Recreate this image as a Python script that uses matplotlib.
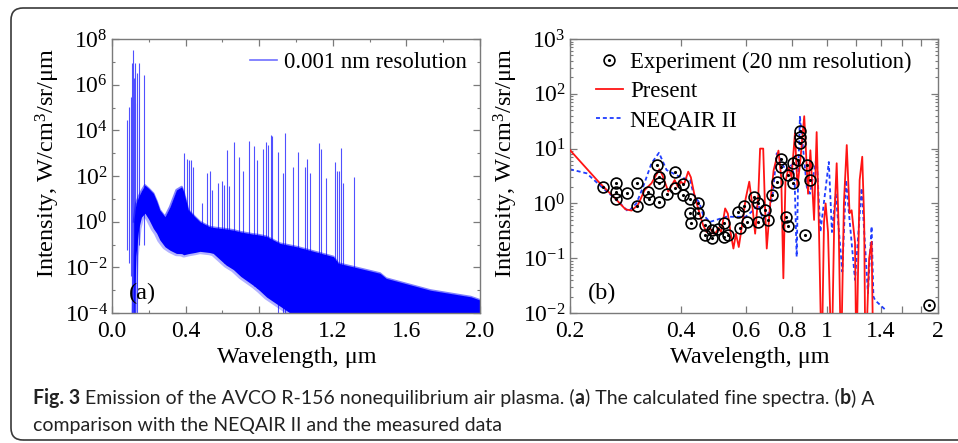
import numpy as np
import matplotlib
matplotlib.use('Agg')
import matplotlib.pyplot as plt
from matplotlib.patches import FancyBboxPatch
from matplotlib.lines import Line2D
from matplotlib.legend_handler import HandlerTuple
from matplotlib.ticker import FixedLocator, NullFormatter, NullLocator, LogLocator

plt.rcParams['font.family'] = ['Liberation Serif', 'DejaVu Serif']
plt.rcParams['mathtext.fontset'] = 'custom'
plt.rcParams['mathtext.rm'] = 'Liberation Serif'
plt.rcParams['mathtext.it'] = 'Liberation Serif:italic'
plt.rcParams['axes.unicode_minus'] = False

# ---- panel (a): fine spectrum, band envelope (log10 of intensity) ----
band_wl = [0.118, 0.13, 0.145, 0.16, 0.179, 0.20, 0.225, 0.243, 0.26, 0.288, 0.315,
           0.35, 0.379, 0.39, 0.415, 0.45, 0.478, 0.53, 0.55, 0.62, 0.66, 0.70,
           0.77, 0.80, 0.84, 0.913, 1.004, 1.203, 1.23, 1.457, 1.49, 1.73, 1.95, 2.0]
band_hi = [0.0, 0.8, 1.1, 1.35, 1.6, 1.45, 1.24, 0.9, 0.51, 0.22, 0.65,
           1.39, 1.53, 1.3, 0.51, 0.22, 0.0, -0.22, -0.25, -0.32, -0.37, -0.45,
           -0.55, -0.58, -0.65, -0.95, -1.1, -1.53, -1.82, -2.26, -2.48, -3.0, -3.29, -3.43]
band_lo = [-4.5, -1.5, -0.3, 0.2, 0.37, 0.1, -0.3, -0.51, -0.8, -1.1, -1.25,
           -1.39, -1.4, -1.45, -1.4, -1.35, -1.3, -1.35, -1.39, -1.9, -2.1, -2.4,
           -2.8, -3.0, -3.3, -3.7, -4.2, -5, -5, -5, -5, -5, -5, -5]

# emission lines: wavelength, log10 top, log10 bottom
line_wl = [0.080, 0.091, 0.102, 0.106, 0.110, 0.113, 0.116, 0.119, 0.123, 0.127, 0.134,
           0.148, 0.174, 0.393, 0.409, 0.420, 0.429, 0.440, 0.489, 0.518, 0.533, 0.543,
           0.578, 0.598, 0.609, 0.623, 0.638, 0.665, 0.692, 0.714, 0.745, 0.774, 0.786,
           0.819, 0.835, 0.850, 0.862, 0.871, 0.904, 0.931, 0.940, 0.982, 1.009, 1.049,
           1.058, 1.076, 1.127, 1.134, 1.163, 1.212, 1.221, 1.235, 1.245, 1.257, 1.317]
line_top = [4.45, 5.03, 5.47, 5.5, 6.94, 6.0, 7.52, 6.3, 6.94, 5.2, 6.5,
            6.94, 6.42, 3.02, 2.73, 2.7, 2.7, 2.4, 0.8, 2.12, 2.24, 1.4,
            1.7, 1.78, 1.6, 3.14, 1.55, 3.5, 2.85, 2.24, 3.53, 3.3, 2.7,
            3.2, 3.5, 3.37, 3.8, 3.73, 3.07, 2.12, 3.87, 2.41, 3.07, 2.41,
            2.73, 2.12, 3.46, 3.2, 1.9, 2.63, 2.24, 2.2, 3.21, 1.7, 1.97]
line_bot = [-1.24, -1.8, -2.4, -4, -4, -4, -4, -4, -4, -4, -4,
            -1, -1, -1.3, -1.3, -1.3, -1.3, -1.3, -1.3, -1.3, -1.3, -1.3,
            -1.3, -1.3, -1.8, -1.8, -1.8, -2.0, -2.2, -2.4, -2.6, -2.8, -2.9,
            -3.1, -3.2, -3.3, -3.4, -3.4, -4, -4, -4, -4, -4, -4,
            -4, -4, -4, -4, -4, -4, -4, -4, -4, -4, -4]

# ---- panel (b) ----
exp_wl = [0.246, 0.266, 0.266, 0.266, 0.285, 0.305, 0.305, 0.326, 0.327, 0.344,
          0.348, 0.348, 0.348, 0.368, 0.387, 0.387, 0.406, 0.406, 0.424, 0.424,
          0.426, 0.446, 0.446, 0.465, 0.465, 0.485, 0.485, 0.506, 0.524, 0.524,
          0.537, 0.580, 0.573, 0.594, 0.604, 0.632, 0.650, 0.650, 0.678, 0.692,
          0.706, 0.729, 0.747, 0.750, 0.784, 0.773, 0.780, 0.806, 0.806, 0.835,
          0.843, 0.843, 0.845, 0.870, 0.883, 0.898, 1.89]
exp_I = [1.97, 2.39, 1.64, 1.19, 1.57, 2.33, 0.90, 1.64, 1.20, 5.0,
         3.07, 2.33, 1.07, 1.47, 3.79, 1.88, 2.23, 1.42, 1.19, 0.66,
         0.43, 1.03, 0.66, 0.40, 0.265, 0.33, 0.23, 0.34, 0.43, 0.24,
         0.265, 0.35, 0.69, 0.91, 0.46, 1.32, 1.03, 0.46, 0.76, 0.50,
         1.42, 2.49, 6.38, 4.68, 3.30, 0.57, 0.39, 5.4, 2.39, 6.2,
         20.9, 16.5, 12.5, 0.265, 5.0, 2.67, 0.014]

present_wl = [0.200, 0.2154, 0.239, 0.265, 0.283, 0.294, 0.306, 0.319, 0.333, 0.350,
              0.357, 0.370, 0.385, 0.393, 0.400, 0.408, 0.419, 0.426, 0.436, 0.450,
              0.460, 0.470, 0.480, 0.490, 0.500, 0.506, 0.515, 0.528, 0.537, 0.546,
              0.556, 0.565, 0.575, 0.590, 0.600, 0.614, 0.625, 0.637, 0.650, 0.657,
              0.670, 0.677, 0.685, 0.700, 0.715, 0.737, 0.750, 0.760, 0.770, 0.785,
              0.800, 0.817, 0.830, 0.845, 0.866, 0.887, 0.900, 0.921, 0.936, 0.950,
              0.966, 0.980, 0.990, 1.005, 1.028, 1.045, 1.061, 1.075, 1.090, 1.110,
              1.130, 1.150, 1.165, 1.190, 1.200, 1.225, 1.245, 1.260, 1.270, 1.300,
              1.320, 1.335]
present_I = [9.4, 5.4, 2.49, 1.24, 0.78, 0.74, 0.94, 1.75, 2.33, 4.2,
             3.2, 1.64, 2.67, 2.0, 2.5, 2.2, 3.8, 3.0, 1.4, 0.65,
             0.40, 0.30, 0.36, 0.28, 0.30, 0.36, 0.30, 0.81, 0.65, 0.30,
             0.15, 0.28, 0.16, 0.5, 1.2, 2.49, 1.0, 0.28, 1.5, 10.0,
             10.0, 1.0, 0.15, 1.0, 4.0, 9.2, 3.0, 0.043, 2.5, 4.5,
             3.0, 19.0, 2.0, 6.0, 39.0, 1.5, 9.3, 0.5, 20.0, 0.3,
             0.001, 0.45, 1.0, 0.3, 0.001, 0.5, 5.4, 0.3, 0.001, 1.0,
             11.6, 0.66, 0.75, 0.19, 0.001, 2.67, 7.1, 0.5, 0.001, 0.1,
             0.2, 0.001]

neqair_wl = [0.200, 0.222, 0.246, 0.268, 0.288, 0.303, 0.316, 0.333, 0.349, 0.366,
             0.381, 0.400, 0.424, 0.433, 0.450, 0.460, 0.480, 0.500, 0.530, 0.560,
             0.600, 0.630, 0.650, 0.670, 0.690, 0.710, 0.729, 0.745, 0.770, 0.800,
             0.815, 0.826, 0.835, 0.843, 0.860, 0.880, 0.898, 0.936, 0.958, 1.010,
             1.030, 1.055, 1.099, 1.125, 1.150, 1.190, 1.240, 1.290, 1.320, 1.335,
             1.350, 1.440]
neqair_I = [4.2, 3.54, 1.89, 1.15, 0.71, 1.0, 2.0, 5.4, 8.4, 4.06,
            3.54, 3.0, 2.67, 1.5, 1.0, 0.62, 0.46, 0.50, 0.57, 0.57,
            0.57, 0.75, 0.94, 0.5, 0.6, 1.32, 8.2, 6.5, 4.0, 5.0,
            3.0, 0.106, 5.0, 38.0, 10.0, 2.0, 1.5, 7.1, 0.3, 5.7,
            0.3, 1.5, 0.057, 2.67, 0.5, 0.04, 1.9, 0.023, 0.38, 0.02,
            0.017, 0.0114]

b_ticks = [0.2, 0.4, 0.6, 0.8, 1.0, 1.2, 1.4, 1.6, 1.8, 2.0]
b_ticklabels = ['0.2', '0.4', '0.6', '0.8', '1', '', '1.4', '', '', '2']

caption_1 = [('Fig. 3', True), (' Emission of the AVCO R-156 nonequilibrium air plasma. (', False),
             ('a', True), (') The calculated fine spectra. (', False), ('b', True), (') A', False)]
caption_2 = [('comparison with the NEQAIR II and the measured data', False)]

W, H = 958, 443
fig = plt.figure(figsize=(W / 100, H / 100), dpi=100)
axa = fig.add_axes([112 / W, 1 - 313 / H, 368 / W, 274 / H])
axb = fig.add_axes([570 / W, 1 - 313 / H, 368 / W, 274 / H])

spine_col = '#7a7a7a'
tick_fs = 17
label_fs = 17.5
leg_fs = 16.4

# --- (a) ---
axa.set_yscale('log')
axa.vlines(line_wl, np.power(10.0, line_bot), np.power(10.0, line_top),
           color='#5050ff', lw=0.8, zorder=1)
axa.fill_between(band_wl, np.power(10.0, band_lo), np.power(10.0, band_hi),
                 color='#0000ff', lw=0, zorder=2)
axa.plot(band_wl, np.power(10.0, band_lo), color='#0000ff', lw=4, alpha=0.3, zorder=2)
axa.plot(band_wl, np.power(10.0, band_hi), color='#0000ff', lw=1.5, alpha=0.5, zorder=2)
axa.set_xlim(0, 2.0)
axa.set_ylim(1e-4, 1e8)
axa.set_xticks(np.arange(0, 2.01, 0.4))
axa.set_xticklabels(['0.0', '0.4', '0.8', '1.2', '1.6', '2.0'])
axa.set_xticks(np.arange(0.2, 2.0, 0.4), minor=True)
axa.yaxis.set_major_locator(FixedLocator([10.0 ** k for k in range(-4, 9, 2)]))
axa.yaxis.set_minor_locator(FixedLocator([10.0 ** k for k in range(-3, 8, 2)]))
axa.yaxis.set_minor_formatter(NullFormatter())
axa.legend([Line2D([], [], color='#7070ff', lw=1.2)], ['0.001 nm resolution'],
           loc='upper left', bbox_to_anchor=(0.375, 0.953), frameon=False,
           fontsize=leg_fs, handlelength=1.2, handletextpad=0.3,
           borderpad=0, borderaxespad=0)
axa.text(0.084, 0.073, '(a)', transform=axa.transAxes, fontsize=label_fs,
         ha='center', va='center')

# --- (b) ---
axb.set_xscale('log')
axb.set_yscale('log')
blue, = axb.plot(neqair_wl, neqair_I, color='#1f3cff', lw=1.3, ls=(0, (2.2, 1.6)), zorder=2)
red, = axb.plot(present_wl, present_I, color='#ff1414', lw=1.3, zorder=3)
circ, = axb.plot(exp_wl, exp_I, 'o', mfc='none', mec='black', ms=7.8, mew=1.2, zorder=4)
dot, = axb.plot(exp_wl, exp_I, '.', color='black', ms=2.5, zorder=4)
axb.set_xlim(0.2, 2.0)
axb.set_ylim(1e-2, 1e3)
axb.xaxis.set_major_locator(FixedLocator(b_ticks))
axb.xaxis.set_minor_locator(NullLocator())
axb.set_xticklabels(b_ticklabels)
axb.yaxis.set_major_locator(LogLocator(base=10))
axb.yaxis.set_minor_locator(LogLocator(base=10, subs=np.arange(2, 10)))
axb.yaxis.set_minor_formatter(NullFormatter())
axb.legend([(circ, dot), red, blue],
           ['Experiment (20 nm resolution)', 'Present', 'NEQAIR II'],
           handler_map={tuple: HandlerTuple(ndivide=1)}, numpoints=1,
           loc='upper left', bbox_to_anchor=(0.07, 0.953), frameon=False,
           fontsize=leg_fs, handlelength=1.2, handletextpad=0.3, labelspacing=0.36,
           borderpad=0, borderaxespad=0)
axb.text(0.086, 0.073, '(b)', transform=axb.transAxes, fontsize=label_fs,
         ha='center', va='center')

for ax in (axa, axb):
    for s in ax.spines.values():
        s.set_color(spine_col)
        s.set_linewidth(1.0)
    ax.tick_params(which='both', direction='in', top=True, right=True,
                   color=spine_col, labelsize=tick_fs)
    ax.tick_params(which='major', length=5, width=0.9)
    ax.tick_params(which='minor', length=2.5, width=0.8)
    ax.tick_params(axis='x', pad=6)
    ax.tick_params(axis='y', pad=3)
    ax.set_xlabel('Wavelength, \u03bcm', fontsize=label_fs)
    ax.set_ylabel('Intensity, W/cm$^{3}$/sr/\u03bcm', fontsize=label_fs)
    ax.yaxis.set_label_coords(-0.136, 0.547)
axa.xaxis.set_label_coords(0.503, -0.124)
axb.xaxis.set_label_coords(0.489, -0.124)

# outer rounded frame (extends past the right edge)
frame = FancyBboxPatch((0.11, 0.03), 9.8, 4.32, boxstyle='round,pad=0,rounding_size=0.12',
                       transform=fig.dpi_scale_trans, fill=False, ec='#3a3a3a', lw=1.2)
fig.patches.append(frame)

# caption with mixed weights
cap_family = ['Lato', 'Open Sans', 'DejaVu Sans']
renderer = fig.canvas.get_renderer()


def caption_line(pieces, x0, y_base, size):
    probe = fig.text(0, 0, 'a a', fontsize=size, family=cap_family)
    probe2 = fig.text(0, 0, 'aa', fontsize=size, family=cap_family)
    space_w = probe.get_window_extent(renderer).width - probe2.get_window_extent(renderer).width
    probe.remove()
    probe2.remove()
    x = x0
    texts = []
    for txt, bold in pieces:
        lead = len(txt) - len(txt.lstrip(' '))
        trail = len(txt) - len(txt.rstrip(' '))
        x += lead * space_w
        t = fig.text(x / W, 1 - y_base / H, txt.strip(' '), fontsize=size, family=cap_family,
                     fontweight='bold' if bold else 'normal', ha='left', va='baseline',
                     color='#222222')
        texts.append(t)
        x += t.get_window_extent(renderer).width + trail * space_w
    return texts, x


# fit the first caption line to the measured span (33 px .. 875 px)
trial, x_end = caption_line(caption_1, 33, 404, 10)
for t in trial:
    t.remove()
cap_fs = 10 * (875 - 33) / (x_end - 33)
caption_line(caption_1, 33, 404, cap_fs)
caption_line(caption_2, 33, 431, cap_fs)

fig.savefig('out.png', dpi=100)
